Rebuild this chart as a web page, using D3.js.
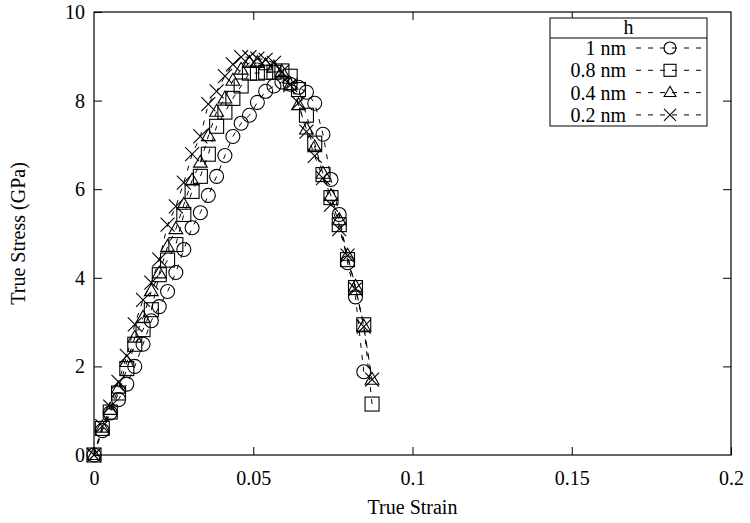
<!DOCTYPE html>
<html>
<head>
<meta charset="utf-8">
<script src="https://cdn.jsdelivr.net/npm/d3@7/dist/d3.min.js"></script>
<style>
  html, body { margin: 0; padding: 0; background: #fff; }
  svg { display: block; }
  text { font-family: "Liberation Serif", "Times New Roman", serif; fill: #000; }
</style>
</head>
<body>
<svg id="chart" width="750" height="523"></svg>
<script>
// Strain steps shared by every run
const strain = [0, 0.0026, 0.0051, 0.0077, 0.0103, 0.0128, 0.0154, 0.018, 0.0205, 0.0231,
  0.0257, 0.0282, 0.0308, 0.0334, 0.0359, 0.0385, 0.0411, 0.0436, 0.0462, 0.0488,
  0.0513, 0.0539, 0.0565, 0.059, 0.0616, 0.0642, 0.0667, 0.0693, 0.0719, 0.0744,
  0.077, 0.0796, 0.0821, 0.0847, 0.0873];

// True stress (GPa) for each thickness h
const stress1nm = [0, 0.55, 0.95, 1.25, 1.6, 2.0, 2.5, 3.03, 3.35, 3.69,
  4.12, 4.64, 5.13, 5.47, 5.86, 6.29, 6.76, 7.19, 7.49, 7.67,
  7.96, 8.21, 8.33, 8.42, 8.37, 8.30, 8.19, 7.94, 7.24, 6.22,
  5.43, 4.34, 3.57, 1.88];
const stress08nm = [0, 0.6, 0.97, 1.4, 1.95, 2.5, 2.83, 3.28, 4.07, 4.4,
  4.75, 5.43, 5.95, 6.29, 6.79, 7.42, 7.74, 8.05, 8.33, 8.62,
  8.62, 8.64, 8.64, 8.67, 8.55, 8.25, 7.67, 7.04, 6.33, 5.81,
  5.20, 4.41, 3.78, 2.94, 1.15];
const stress04nm = [0, 0.62, 1.02, 1.5, 2.1, 2.65, 3.1, 3.7, 4.1, 4.7,
  5.1, 5.65, 6.2, 6.6, 7.2, 7.75, 8.05, 8.45, 8.7, 8.85,
  8.85, 8.8, 8.75, 8.65, 8.35, 7.9, 7.35, 6.95, 6.35, 5.85,
  5.3, 4.5, 3.8, 2.9, 1.7];
const stress02nm = [0, 0.65, 1.09, 1.65, 2.24, 2.95, 3.5, 3.89, 4.41, 5.2,
  5.61, 6.15, 6.79, 7.19, 7.92, 8.21, 8.55, 8.82, 8.98, 8.98,
  8.95, 8.92, 8.85, 8.65, 8.35, 7.95, 7.3, 6.75, 6.25, 5.65,
  5.1, 4.5, 3.75, 2.9, 1.7];

const seriesNames = ["1 nm", "0.8 nm", "0.4 nm", "0.2 nm"];
const seriesValues = [stress1nm, stress08nm, stress04nm, stress02nm];
const seriesSymbols = ["circle", "square", "triangle", "cross"];

const xTicks = [0, 0.05, 0.1, 0.15, 0.2];
const xTickLabels = ["0", "0.05", "0.1", "0.15", "0.2"];
const yTicks = [0, 2, 4, 6, 8, 10];
const yTickLabels = ["0", "2", "4", "6", "8", "10"];

const xTitle = "True Strain";
const yTitle = "True Stress (GPa)";
const legendTitle = "h";

// Plot frame in pixels
const plotLeft = 94, plotRight = 731, plotTop = 12, plotBottom = 455;
const svg = d3.select("#chart");

const x = d3.scaleLinear().domain([0, 0.2]).range([plotLeft, plotRight]);
const y = d3.scaleLinear().domain([0, 10]).range([plotBottom, plotTop]);

const tickLen = 8;
const tickFont = 20;

svg.append("rect")
  .attr("x", plotLeft).attr("y", plotTop)
  .attr("width", plotRight - plotLeft).attr("height", plotBottom - plotTop)
  .attr("fill", "none").attr("stroke", "#000").attr("stroke-width", 1.2);

// Axes with inward ticks on all four sides
const styleAxis = g => {
  g.select(".domain").remove();
  g.selectAll(".tick line").attr("stroke", "#000").attr("stroke-width", 1);
  g.selectAll(".tick text")
    .style("font-family", '"Liberation Serif", serif')
    .style("font-size", tickFont + "px")
    .attr("fill", "#000");
};

svg.append("g")
  .attr("transform", `translate(0,${plotBottom})`)
  .call(d3.axisBottom(x).tickValues(xTicks)
    .tickFormat((d, i) => xTickLabels[i])
    .tickSizeInner(-tickLen).tickSizeOuter(0).tickPadding(16))
  .call(styleAxis);

svg.append("g")
  .attr("transform", `translate(0,${plotTop})`)
  .call(d3.axisTop(x).tickValues(xTicks.slice(1, -1))
    .tickFormat("").tickSizeInner(-tickLen).tickSizeOuter(0))
  .call(styleAxis);

svg.append("g")
  .attr("transform", `translate(${plotLeft},0)`)
  .call(d3.axisLeft(y).tickValues(yTicks)
    .tickFormat((d, i) => yTickLabels[i])
    .tickSizeInner(-tickLen).tickSizeOuter(0).tickPadding(9))
  .call(styleAxis);

svg.append("g")
  .attr("transform", `translate(${plotRight},0)`)
  .call(d3.axisRight(y).tickValues(yTicks.slice(1, -1))
    .tickFormat("").tickSizeInner(-tickLen).tickSizeOuter(0))
  .call(styleAxis);

// Axis titles
svg.append("text")
  .attr("x", (plotLeft + plotRight) / 2).attr("y", 514)
  .attr("text-anchor", "middle")
  .style("font-size", "20px")
  .text(xTitle);

svg.append("text")
  .attr("transform", `translate(25,${(plotTop + plotBottom) / 2}) rotate(-90)`)
  .attr("text-anchor", "middle")
  .style("font-size", "20px")
  .text(yTitle);

// Marker shapes, drawn unfilled around a centre point
const markerSize = 7;
function drawMarker(g, type, cx, cy, s) {
  s = s || markerSize;
  if (type === "circle") {
    g.append("circle").attr("cx", cx).attr("cy", cy).attr("r", s)
      .attr("fill", "none").attr("stroke", "#000").attr("stroke-width", 1.1);
  } else if (type === "square") {
    g.append("rect").attr("x", cx - s).attr("y", cy - s)
      .attr("width", 2 * s).attr("height", 2 * s)
      .attr("fill", "none").attr("stroke", "#000").attr("stroke-width", 1.1);
  } else if (type === "triangle") {
    g.append("path")
      .attr("d", `M${cx},${cy - s * 1.05}L${cx + s * 0.98},${cy + s * 0.65}L${cx - s * 0.98},${cy + s * 0.65}Z`)
      .attr("fill", "none").attr("stroke", "#000").attr("stroke-width", 1.1);
  } else {
    g.append("path")
      .attr("d", `M${cx - s},${cy - s}L${cx + s},${cy + s}M${cx - s},${cy + s}L${cx + s},${cy - s}`)
      .attr("fill", "none").attr("stroke", "#000").attr("stroke-width", 1.1);
  }
}

const line = d3.line().x(d => x(d[0])).y(d => y(d[1]));
const dash = "5,7";

const plot = svg.append("g");
seriesValues.forEach((vals, si) => {
  const pts = vals.map((v, i) => [strain[i], v]);
  plot.append("path")
    .datum(pts)
    .attr("d", line)
    .attr("fill", "none")
    .attr("stroke", "#000")
    .attr("stroke-width", 1)
    .attr("stroke-dasharray", dash);
  const mg = plot.append("g");
  pts.forEach(p => drawMarker(mg, seriesSymbols[si], x(p[0]), y(p[1])));
});

// Legend box with title row
const lgLeft = 550, lgRight = 707, lgTop = 18, lgHead = 38, lgBottom = 126;
const lg = svg.append("g");
lg.append("rect")
  .attr("x", lgLeft).attr("y", lgTop)
  .attr("width", lgRight - lgLeft).attr("height", lgBottom - lgTop)
  .attr("fill", "#fff").attr("stroke", "#000").attr("stroke-width", 1);
lg.append("line")
  .attr("x1", lgLeft).attr("x2", lgRight)
  .attr("y1", lgHead).attr("y2", lgHead)
  .attr("stroke", "#000").attr("stroke-width", 1);
lg.append("text")
  .attr("x", (lgLeft + lgRight) / 2).attr("y", 34)
  .attr("text-anchor", "middle")
  .style("font-size", "20px")
  .text(legendTitle);

seriesNames.forEach((name, i) => {
  const cy = 48 + i * 22.3;
  lg.append("text")
    .attr("x", 626).attr("y", cy + 7)
    .attr("text-anchor", "end")
    .style("font-size", "20px")
    .text(name);
  lg.append("line")
    .attr("x1", 636).attr("x2", 704)
    .attr("y1", cy).attr("y2", cy)
    .attr("stroke", "#000").attr("stroke-width", 1)
    .attr("stroke-dasharray", dash);
  drawMarker(lg, seriesSymbols[i], 670, cy, 6);
});
</script>
</body>
</html>
